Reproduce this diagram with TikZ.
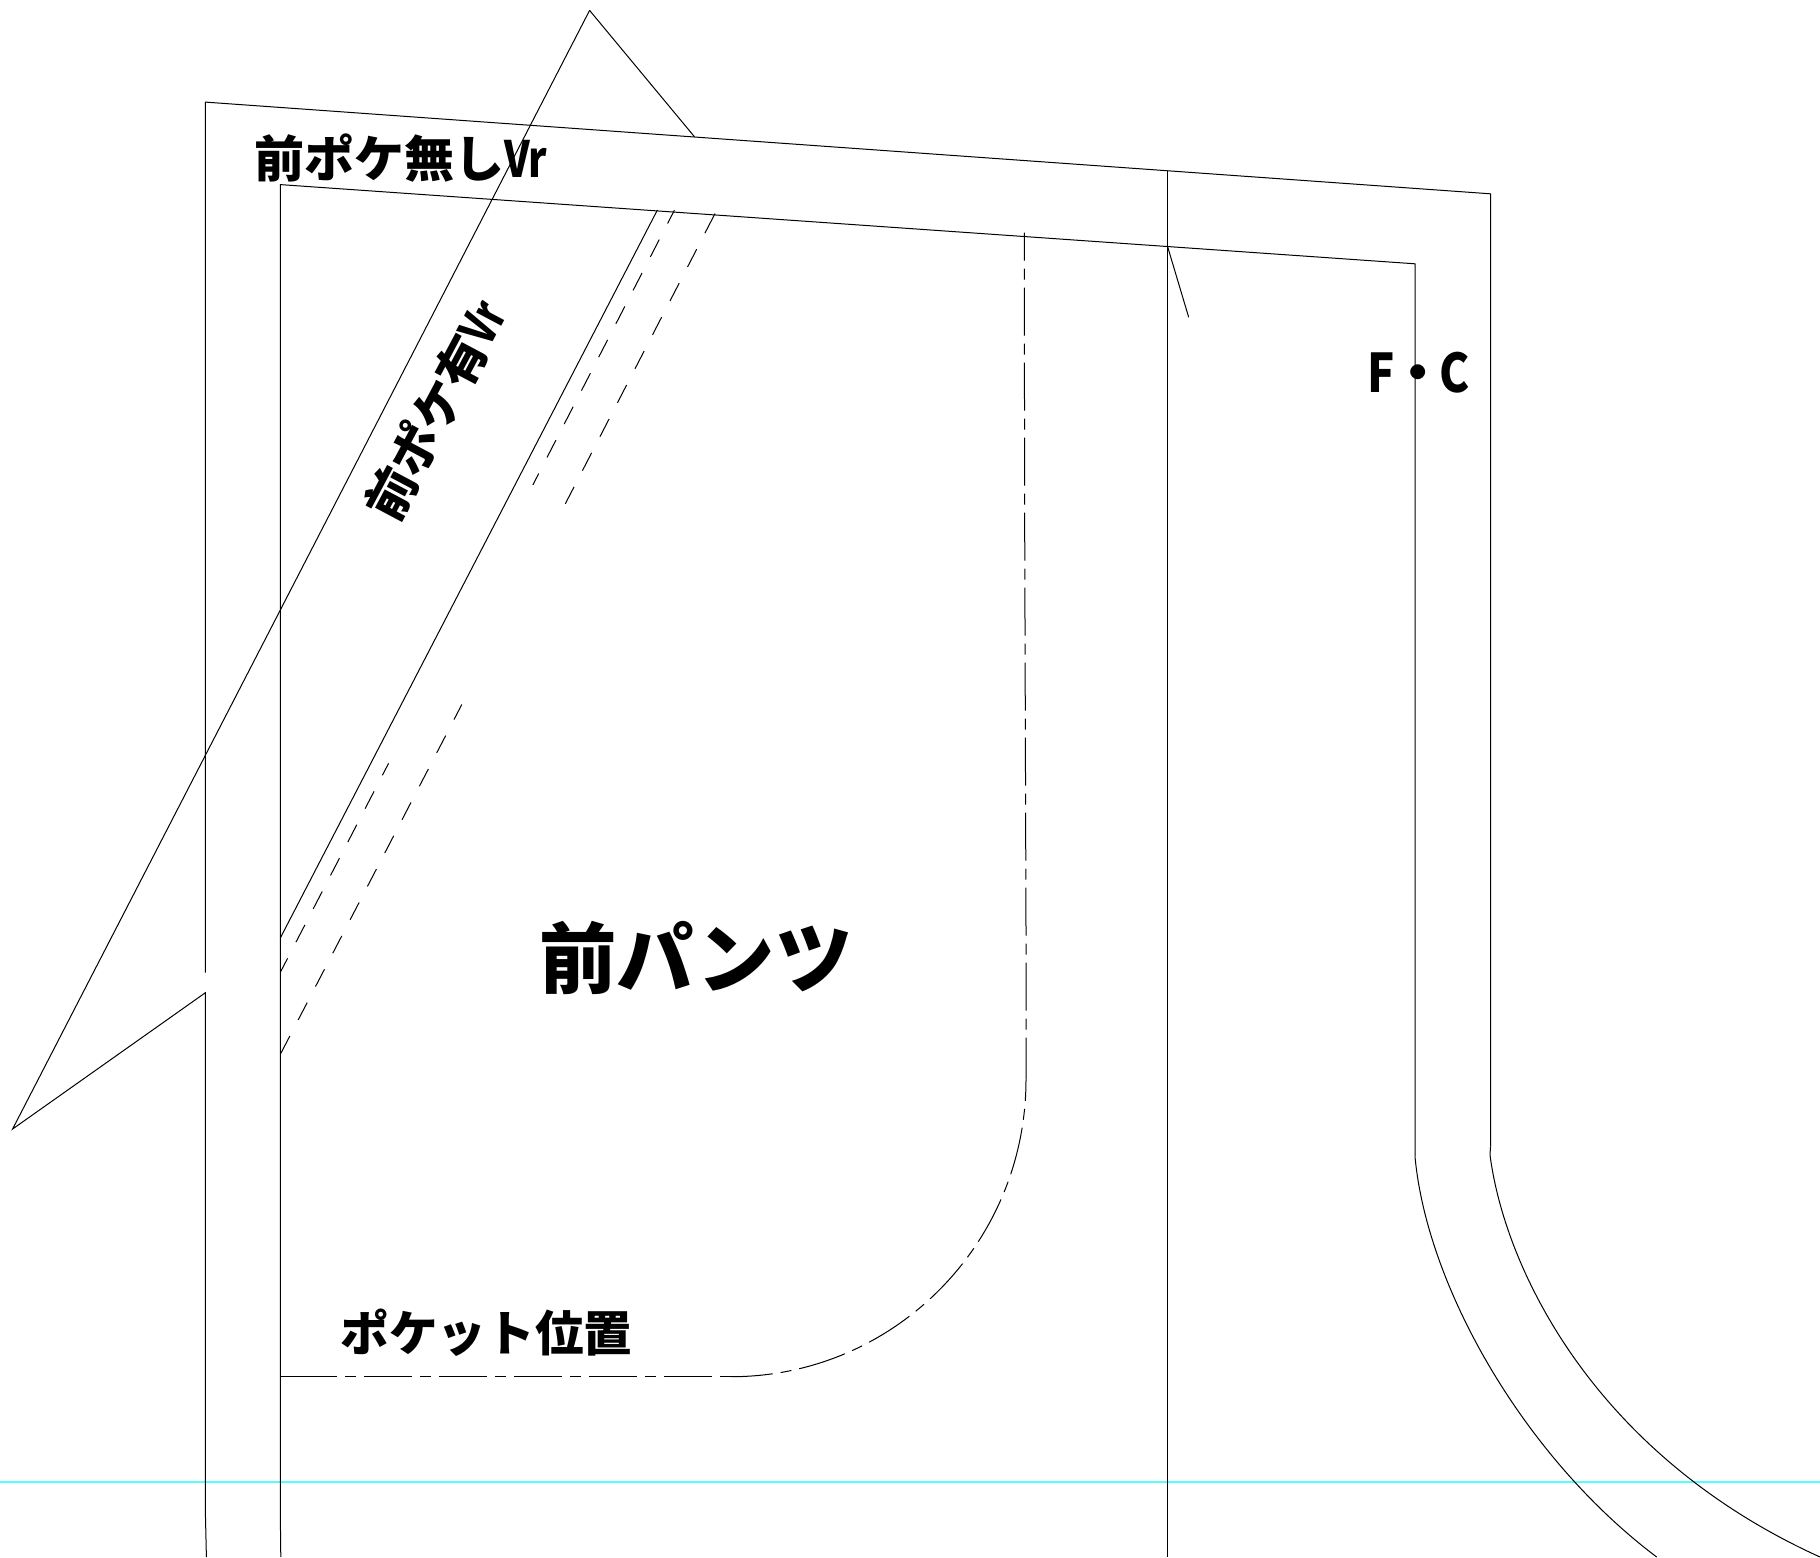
\documentclass[tikz,border=0pt]{standalone}
\usepackage{fontspec}
\newfontfamily\jpf{Noto Sans CJK JP}
\newcommand{\jpsize}[1]{\jpf\bfseries\fontsize{#1}{#1}\selectfont}
\definecolor{guidecyan}{RGB}{85,255,255}
\tikzset{
  pattern line/.style={draw=black,line width=0.75pt,line join=miter},
  sew line/.style={pattern line,dash pattern=on 14.6pt off 13.6pt},
  pocket line/.style={pattern line,dash pattern=on 36pt off 6pt on 8.25pt off 6pt},
  guide line/.style={draw=guidecyan,line width=1.5pt},
  label text/.style={inner sep=0pt,outer sep=0pt,text=black},
}
\begin{document}
\begin{tikzpicture}[x=0.75pt,y=-0.75pt]
\useasboundingbox (0,0) rectangle (1820,1557);
% key points
\coordinate (otl) at (205.4,102.1);
\coordinate (otr) at (1490.5,193.8);
\coordinate (itl) at (280.3,184.6);
\coordinate (itr) at (1415,263.8);
\coordinate (tip) at (12.6,1129);
\coordinate (apex) at (589.6,10.4);
\coordinate (foot) at (694.5,136.8);
\coordinate (notch) at (205.4,992.7);
\coordinate (gap) at (205.4,972.7);
% guide
\draw[guide line] (0,1481.5) -- (1820,1481.5);
% outer seam allowance
\draw[pattern line] (gap) -- (otl) -- (otr) -- (1490.5,1146.7);
\draw[pattern line] (apex) -- (foot);
\draw[pattern line] (apex) -- (tip) -- (notch) -- (205.4,1513) -- (206.4,1557);
% inner outline
\draw[pattern line] (280.8,1557) -- (280.3,1513) -- (itl) -- (itr) -- (1415,1156.7);
% centre vertical and tick
\draw[pattern line] (1167.4,170.7) -- (1167.4,1557);
\draw[pattern line] (1167.4,246) -- (1188.7,317.3);
% pocket opening
\draw[pattern line] (280.3,938) -- (657.4,210);
\draw[sew line,dash phase=3.4pt] (674.4,210.2) -- (532.8,485);
\draw[sew line,dash phase=4.5pt] (388.6,763.3) -- (280.5,972);
\draw[pattern line] (715,213.6) -- (704.9,233.2);
\draw[sew line,dash pattern=on 15pt off 13.65pt] (696.7,249.2) -- (565.3,503.8);
\draw[sew line,dash phase=1.9pt] (461.8,704.5) -- (280.5,1054);
% pocket position
\draw[pocket line,dash phase=15pt] (1024.3,232.7) -- (1024.6,500) -- (1026,930) -- (1026,1079.5);
\draw[pocket line,dash phase=20pt] (1026,1079.5) .. controls (1026,1243.5) and (894,1376.7) .. (731,1376.7);
\draw[pattern line] (280.3,1376.7) -- (289,1376.7);
\draw[pocket line] (289,1376.7) -- (731,1376.7);
% curves
\draw[pattern line] (1415,1156.7) .. controls (1427,1286.7) and (1523.7,1457) .. (1656.7,1557);
\draw[pattern line] (1490.5,1146.7) -- (1490,1155) .. controls (1505,1270) and (1595,1455) .. (1820,1557);
% labels
\node[label text,anchor=west] (nopocket) at (254,158) {\jpsize{37.5pt}前ポケ無し\scalebox{0.8}[1]{Vr}};
\node[label text,anchor=center,rotate=62] (withpocket) at (435,410) {\jpsize{37.5pt}前ポケ有\scalebox{0.72}[1]{Vr}};
\node[label text,anchor=center] (fc) at (1418,373) {\jpsize{40pt}\makebox[27.4pt][c]{\scalebox{0.85}[1]{F}}\makebox[27.4pt][c]{・}\makebox[27.4pt][c]{\scalebox{0.85}[1]{C}}};
\node[label text,anchor=center] (pocketpos) at (486.5,1333) {\jpsize{36.5pt}ポケット位置};
\node[label text,anchor=center] (front) at (696,958) {\jpsize{58pt}前パンツ};
\end{tikzpicture}
\end{document}
